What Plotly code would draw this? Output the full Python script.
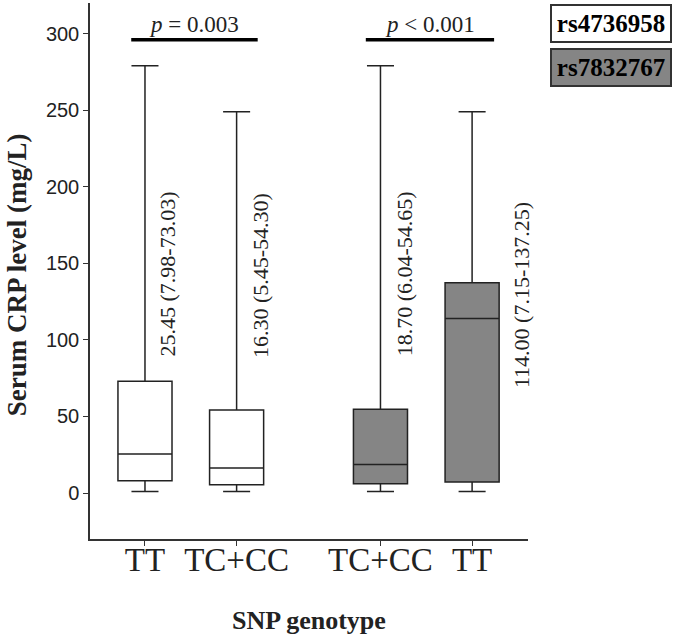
import plotly.graph_objects as go

# genotype groups (tick labels) and SNP of each box
genotypes = ["TT", "TC+CC", "TC+CC", "TT"]
snps = ["rs4736958", "rs4736958", "rs7832767", "rs7832767"]
x_pos = [1, 2, 3.57, 4.57]

# box statistics, CRP (mg/L)
medians = [25.45, 16.30, 18.70, 114.00]
q1s = [7.98, 5.45, 6.04, 7.15]
q3s = [73.03, 54.30, 54.65, 137.25]
lows = [1, 1, 1, 1]
highs = [279, 249, 279, 249]

p_labels = ["<i>p</i> = 0.003", "<i>p</i> &lt; 0.001"]

fills = {"rs4736958": "white", "rs7832767": "#858585"}
serif = "Liberation Serif"
ink = "#222222"

fig = go.Figure()

for i in range(len(medians)):
    fig.add_trace(go.Box(
        x=[x_pos[i]],
        q1=[q1s[i]], median=[medians[i]], q3=[q3s[i]],
        lowerfence=[lows[i]], upperfence=[highs[i]],
        width=0.59,
        whiskerwidth=0.5,
        fillcolor=fills[snps[i]],
        line=dict(color=ink, width=1.5),
        boxpoints=False,
        showlegend=False,
        hoverinfo="skip",
    ))

# median (IQR) labels, rotated
lab_dx = [0.245, 0.26, 0.26, 0.54]
lab_y = [143, 142, 143, 129]
for i in range(len(medians)):
    fig.add_annotation(
        x=x_pos[i] + lab_dx[i], y=lab_y[i],
        text=f"{medians[i]:.2f} ({q1s[i]:.2f}-{q3s[i]:.2f})",
        textangle=-90, showarrow=False,
        font=dict(family=serif, size=22, color=ink),
    )

# significance bars
bars = [(0.85, 2.23), (3.41, 4.81)]
for (x0, x1), lab in zip(bars, p_labels):
    fig.add_shape(type="line", x0=x0, x1=x1, y0=296, y1=296,
                  line=dict(color="black", width=3.5))
    fig.add_annotation(x=(x0 + x1) / 2, y=296, yanchor="bottom", yshift=1,
                       text=lab, showarrow=False,
                       font=dict(family=serif, size=23, color=ink))

# legend boxes
for j, (name, col) in enumerate(fills.items()):
    fig.add_annotation(
        xref="paper", yref="paper", x=1.189, y=0.998 - j * 0.082,
        xanchor="center", yanchor="top",
        text=f"<b>{name}</b>", showarrow=False,
        font=dict(family=serif, size=25, color="black"),
        bgcolor=col, bordercolor="#333", borderwidth=2,
        width=116, height=33,
    )

# axis titles
fig.add_annotation(xref="paper", yref="paper", x=0.5, y=-0.152, yanchor="middle",
                   text="<b>SNP genotype</b>", showarrow=False,
                   font=dict(family=serif, size=26, color=ink))
fig.add_annotation(xref="paper", yref="paper", x=-0.168, y=0.493, xanchor="center",
                   text="<b>Serum CRP level (mg/L)</b>", textangle=-90, showarrow=False,
                   font=dict(family=serif, size=27, color=ink))

fig.update_layout(
    width=675, height=637,
    margin=dict(l=90, r=147, t=3, b=98),
    paper_bgcolor="white", plot_bgcolor="white",
)
fig.update_xaxes(
    range=[0.4, 5.18], tickmode="array", tickvals=x_pos, ticktext=genotypes,
    showline=True, linecolor="#333", linewidth=1.5, showgrid=False, zeroline=False,
    ticks="outside", ticklen=5, tickcolor="#333", automargin=False,
    ticklabelstandoff=-14,
    tickfont=dict(family=serif, size=33, color=ink),
)
fig.update_yaxes(
    range=[-30, 320], tickvals=[0, 50, 100, 150, 200, 250, 300],
    showline=True, linecolor="#333", linewidth=1.5, showgrid=False, zeroline=False,
    ticks="outside", ticklen=5, tickcolor="#333", automargin=False,
    tickfont=dict(family="Liberation Sans", size=20, color=ink),
)

# drop the browser's default body margin so the figure fills the window
fig.write_html("out.html", config={"displayModeBar": False},
               post_script="document.body.style.margin='0';")
